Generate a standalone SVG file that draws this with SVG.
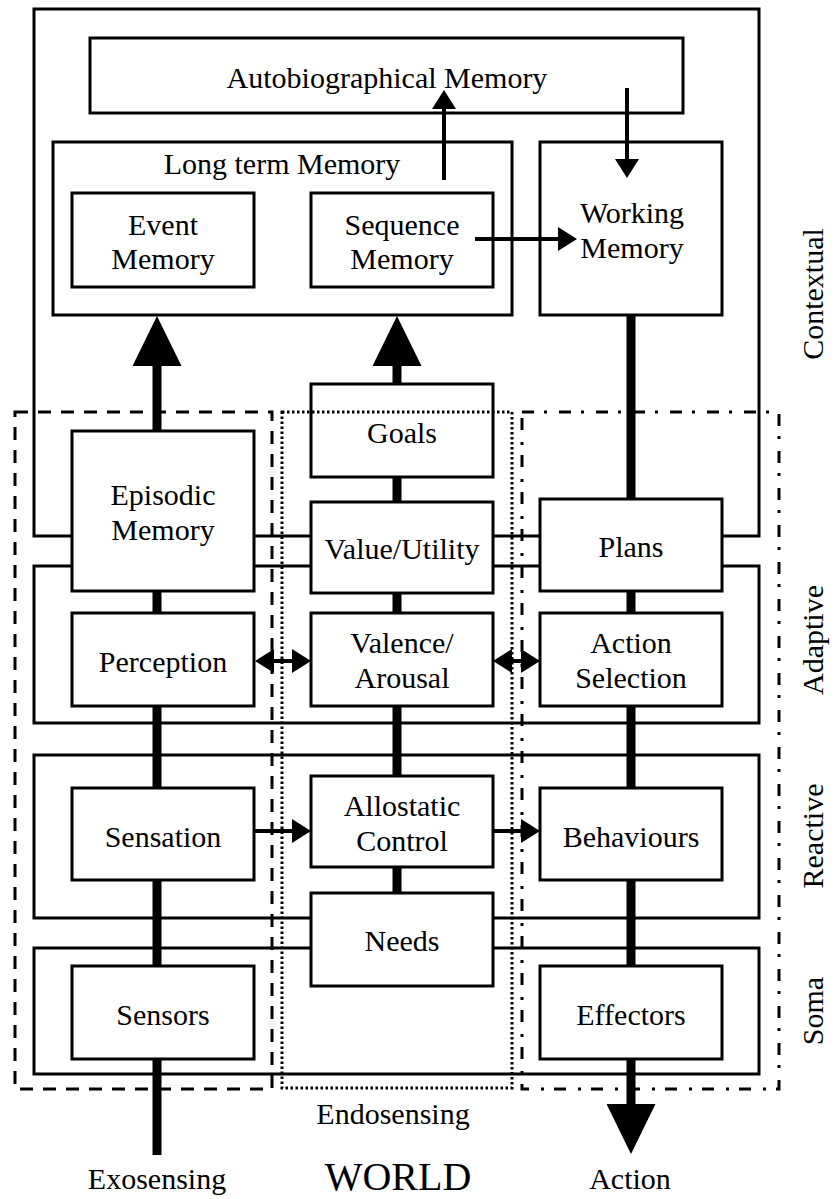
<svg xmlns="http://www.w3.org/2000/svg" width="834" height="1199" viewBox="0 0 834 1199">
<style>
.layer{fill:none;stroke:#000;stroke-width:3}
.box{fill:#fff;stroke:#000;stroke-width:3}
.t{font-family:"Liberation Serif","Times New Roman",serif;font-size:30px;fill:#000;text-anchor:middle}
.thick{stroke:#000;stroke-width:9;fill:none}
.thin{stroke:#000;stroke-width:4;fill:none}
.dash{fill:none;stroke:#000;stroke-width:3;stroke-dasharray:13 10}
.dot{fill:none;stroke:#000;stroke-width:3;stroke-dasharray:2.5 2.5}
.dashdot{fill:none;stroke:#000;stroke-width:3;stroke-dasharray:12 10 3 12}
</style>
<defs>
<marker id="ah" markerUnits="userSpaceOnUse" viewBox="0 0 19 24" markerWidth="19" markerHeight="24" refX="5" refY="12" orient="auto-start-reverse"><path d="M0,0 L19,12 L0,24 z" fill="#000"/></marker>
<marker id="big" markerUnits="userSpaceOnUse" viewBox="0 0 50 49" markerWidth="50" markerHeight="49" refX="30" refY="24.5" orient="auto"><path d="M0,0 L50,24.5 L0,49 z" fill="#000"/></marker>
</defs>
<rect x="0" y="0" width="834" height="1199" fill="#fff"/>
<g id="layers">
<rect id="layer-contextual" class="layer" x="34" y="9" width="725" height="527"/>
<rect id="layer-adaptive" class="layer" x="34" y="566" width="725" height="157"/>
<rect id="layer-reactive" class="layer" x="34" y="755" width="725" height="163"/>
<rect id="layer-soma" class="layer" x="34" y="948" width="725" height="126"/>
<text class="t" transform="translate(823,294) rotate(-90)">Contextual</text>
<text class="t" transform="translate(823,640) rotate(-90)">Adaptive</text>
<text class="t" transform="translate(823,836) rotate(-90)">Reactive</text>
<text class="t" transform="translate(823,1011) rotate(-90)">Soma</text>
</g>
<g id="connectors">
<line class="thick" x1="157" y1="431" x2="157" y2="336" marker-end="url(#big)"/>
<line class="thick" x1="157" y1="591" x2="157" y2="1155"/>
<line class="thick" x1="397" y1="384" x2="397" y2="336" marker-end="url(#big)"/>
<line class="thick" x1="397" y1="477" x2="397" y2="893"/>
<line class="thick" x1="631" y1="315" x2="631" y2="1134" marker-end="url(#big)"/>
</g>
<g id="autobiographical-memory"><rect class="box" x="90" y="38" width="593" height="75"/><text class="t" x="387" y="88">Autobiographical Memory</text></g>
<g id="long-term-memory"><rect class="box" x="53" y="142" width="459" height="173"/><text class="t" x="282" y="174">Long term Memory</text></g>
<g id="event-memory"><rect class="box" x="72" y="193" width="182" height="94"/><text class="t" x="163" y="235">Event</text><text class="t" x="163" y="269">Memory</text></g>
<g id="sequence-memory"><rect class="box" x="311" y="193" width="182" height="94"/><text class="t" x="402" y="235">Sequence</text><text class="t" x="402" y="269">Memory</text></g>
<g id="working-memory"><rect class="box" x="540" y="142" width="182" height="173"/><text class="t" x="632" y="223">Working</text><text class="t" x="632" y="258">Memory</text></g>
<g id="goals"><rect class="box" x="311" y="384" width="182" height="93"/><text class="t" x="402" y="443">Goals</text></g>
<g id="episodic-memory"><rect class="box" x="72" y="431" width="182" height="160"/><text class="t" x="163" y="505">Episodic</text><text class="t" x="163" y="540">Memory</text></g>
<g id="value-utility"><rect class="box" x="311" y="502" width="182" height="91"/><text class="t" x="402" y="559">Value/Utility</text></g>
<g id="plans"><rect class="box" x="540" y="499" width="182" height="92"/><text class="t" x="631" y="557">Plans</text></g>
<g id="perception"><rect class="box" x="72" y="613" width="182" height="93"/><text class="t" x="163" y="672">Perception</text></g>
<g id="valence-arousal"><rect class="box" x="311" y="613" width="182" height="93"/><text class="t" x="402" y="653">Valence/</text><text class="t" x="402" y="688">Arousal</text></g>
<g id="action-selection"><rect class="box" x="540" y="613" width="182" height="93"/><text class="t" x="631" y="653">Action</text><text class="t" x="631" y="688">Selection</text></g>
<g id="sensation"><rect class="box" x="72" y="788" width="182" height="92"/><text class="t" x="163" y="847">Sensation</text></g>
<g id="allostatic-control"><rect class="box" x="311" y="776" width="182" height="91"/><text class="t" x="402" y="816">Allostatic</text><text class="t" x="402" y="851">Control</text></g>
<g id="behaviours"><rect class="box" x="540" y="788" width="182" height="92"/><text class="t" x="631" y="847">Behaviours</text></g>
<g id="needs"><rect class="box" x="311" y="893" width="182" height="93"/><text class="t" x="402" y="951">Needs</text></g>
<g id="sensors"><rect class="box" x="72" y="966" width="182" height="93"/><text class="t" x="163" y="1025">Sensors</text></g>
<g id="effectors"><rect class="box" x="540" y="966" width="182" height="93"/><text class="t" x="631" y="1025">Effectors</text></g>
<g id="regions">
<rect id="region-exo" class="dash" x="15" y="412" width="257" height="677"/>
<rect id="region-endo" class="dot" x="282" y="412" width="230" height="676"/>
<rect id="region-action" class="dashdot" x="522" y="412" width="257" height="677"/>
</g>
<g id="connectors-top">
<line class="thin" x1="444" y1="180" x2="444" y2="104" marker-end="url(#ah)"/>
<line class="thin" x1="627" y1="88" x2="627" y2="164" marker-end="url(#ah)"/>
<line class="thin" x1="475" y1="239" x2="563" y2="239" marker-end="url(#ah)"/>
<line class="thin" x1="269" y1="661" x2="297" y2="661" marker-start="url(#ah)" marker-end="url(#ah)"/>
<line class="thin" x1="507" y1="661" x2="526" y2="661" marker-start="url(#ah)" marker-end="url(#ah)"/>
<line class="thin" x1="254" y1="831" x2="297" y2="831" marker-end="url(#ah)"/>
<line class="thin" x1="493" y1="831" x2="526" y2="831" marker-end="url(#ah)"/>
</g>
<g id="world-labels">
<text class="t" x="393" y="1124">Endosensing</text>
<text class="t" x="157" y="1189">Exosensing</text>
<text class="t" x="398" y="1190" style="font-size:40px">WORLD</text>
<text class="t" x="630" y="1189">Action</text>
</g>
</svg>
